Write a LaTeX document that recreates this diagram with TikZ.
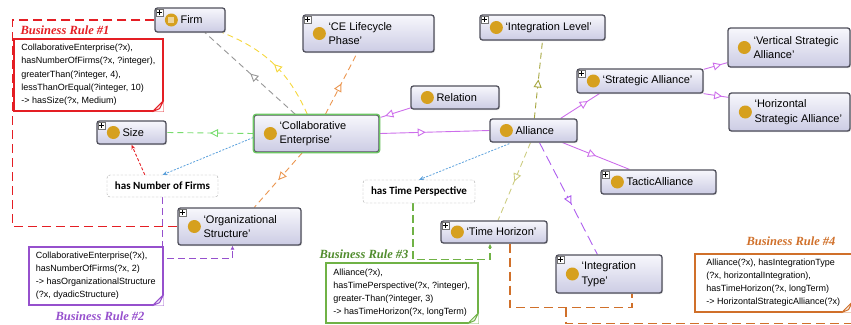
\documentclass[tikz,border=0pt]{standalone}
\usepackage{fontspec}
\setmainfont{Liberation Sans}
\newfontfamily\titlefont{Liberation Serif}
\newfontfamily\propfont{Carlito}
\usetikzlibrary{arrows.meta,decorations.markings,calc,shadows}

\definecolor{boxedge}{RGB}{80,80,92}
\definecolor{boxtop}{RGB}{247,247,252}
\definecolor{boxbot}{RGB}{204,204,228}
\definecolor{bead}{RGB}{214,160,30}
\definecolor{rulered}{RGB}{228,30,36}
\definecolor{rulepurple}{RGB}{150,80,205}
\definecolor{rulegreen}{RGB}{112,178,70}
\definecolor{ruletitlegreen}{RGB}{80,140,45}
\definecolor{ruleorange}{RGB}{208,112,42}
\definecolor{isagreen}{RGB}{120,220,110}
\definecolor{isaviolet}{RGB}{205,110,235}
\definecolor{isaolive}{RGB}{165,165,60}
\definecolor{isakhaki}{RGB}{205,205,130}
\definecolor{isaorange}{RGB}{235,150,80}
\definecolor{isayellow}{RGB}{245,215,60}
\definecolor{isagray}{RGB}{150,150,150}
\definecolor{propblue}{RGB}{90,160,220}

\tikzset{
  cls/.style={draw=boxedge, line width=1.3pt, rounded corners=2.5pt,
    top color=boxtop, bottom color=boxbot, inner sep=0pt,
    drop shadow={opacity=0.25, shadow xshift=1pt, shadow yshift=-1.2pt}},
  lbl/.style={anchor=west, align=left, inner sep=0pt,
    font=\fontsize{11}{14.5}\selectfont},
  propbox/.style={draw=black!35, dash pattern=on 2.5pt off 1.5pt, rounded corners=3pt,
    fill=white, inner sep=0pt, font=\propfont\bfseries\fontsize{11}{13}\selectfont},
  rulebox/.style={fill=white, line width=1.6pt, anchor=north west, align=left,
    inner sep=0pt, font=\fontsize{9}{13.2}\selectfont,
    drop shadow={opacity=0.3, shadow xshift=1.5pt, shadow yshift=-1.5pt}},
  rtitle/.style={font=\titlefont\bfseries\itshape\fontsize{12.5}{14}\selectfont, inner sep=0pt},
  isa/.style={line width=0.9pt, postaction={decorate, decoration={markings,
    mark=at position #1 with {\arrow{Triangle[length=8pt,width=8pt,fill=white]}}}}},
  isa/.default=0.5,
  isadash/.style={dash pattern=on 6pt off 4pt},
  proparrow/.style={propblue, line width=0.8pt, dash pattern=on 2pt off 1.5pt,
    -{Stealth[length=5pt,width=4pt]}},
  ruleline/.style={line width=1.3pt, dash pattern=on 9pt off 5pt},
}

% class box: name, centre, width, height, label
\newcommand{\owlbox}[5]{%
  \node[cls, minimum width=#3pt, minimum height=#4pt] (#1) at (#2) {};
  \fill[bead] ($(#1.west)+(17,0)$) circle (6.5);
  \node[lbl] (#1-txt) at ($(#1.west)+(26,0)$) {#5};
}
% expand mark at the top left corner
\newcommand{\plusmark}[1]{%
  \draw[fill=white, draw=black!55, line width=0.5pt] ($(#1.north west)+(1.5,1.5)$) rectangle ++(7,7);
  \draw[line width=0.7pt] ($(#1.north west)+(5,2.6)$) -- ++(0,4.8)
    ($(#1.north west)+(2.6,5)$) -- ++(4.8,0);
}
% folded corner of a note
\newcommand{\dogear}[2]{%
  \fill[white] (#1.south east) -- ++(-11,0) -- ++(11,-11) -- cycle;
  \filldraw[draw=#2, fill=#2!12, line width=1pt, line join=round]
    ($(#1.south east)+(-11,0)$) -- ($(#1.south east)+(0,-11)$) -- ($(#1.south east)+(-4,-3)$) -- cycle;
}

\pgfdeclarelayer{edges}
\pgfsetlayers{edges,main}

\begin{document}
\begin{tikzpicture}[x=1pt,y=-1pt]
\useasboundingbox (0,0) rectangle (851,324);
\clip (0,0) rectangle (851,324);

% classes
\owlbox{firm}{190,20}{70}{24}{Firm}
\owlbox{celife}{368.5,33.5}{131}{37}{‘CE Lifecycle\\Phase’}
\owlbox{intlevel}{542.5,27.5}{125}{25}{‘Integration Level’}
\owlbox{relation}{455,97.5}{88}{23}{Relation}
\owlbox{size}{131.5,132.5}{69}{23}{Size}
\owlbox{alliance}{533.5,130.5}{87}{23}{Alliance}
\owlbox{strategic}{640,81}{126}{24}{‘Strategic Alliance’}
\owlbox{vertical}{789,47.5}{122}{39}{‘Vertical Strategic\\Alliance’}
\owlbox{horizontal}{789.5,112}{121}{38}{‘Horizontal\\Strategic Alliance’}
\owlbox{tactic}{658.5,182}{115}{24}{TacticAlliance}
\owlbox{org}{239.5,226.5}{123}{37}{‘Organizational\\Structure’}
\owlbox{timeh}{494,232}{106}{22}{‘Time Horizon’}
\owlbox{inttype}{609,274}{106}{38}{‘Integration\\Type’}
\owlbox{ce}{316.5,133.5}{125}{37}{‘Collaborative\\Enterprise’}
\draw[draw=isagreen!90!black, line width=1.3pt, rounded corners=2.5pt] (ce.south west) rectangle (ce.north east);
\fill[bead!45!white] ($(firm.west)+(14,-3)$) rectangle ($(firm.west)+(20,3)$);

\plusmark{firm}
\plusmark{celife}
\plusmark{intlevel}
\plusmark{size}
\plusmark{strategic}
\plusmark{tactic}
\plusmark{org}
\plusmark{timeh}
\plusmark{inttype}

% datatype properties
\node[propbox, minimum width=111pt, minimum height=22pt] (hnf) at (162.5,186) {has Number of Firms};
\node[propbox, minimum width=112pt, minimum height=23pt] (htp) at (419,191.5) {has Time Perspective};

% business rules
\node[rulebox, draw=rulered, minimum width=149pt, minimum height=72pt] (br1) at (13,38)
  {CollaborativeEnterprise(?x),\\hasNumberOfFirms(?x, ?integer),\\greaterThan(?integer, 4),\\lessThanOrEqual(?integer, 10)\\-> hasSize(?x, Medium)};
\node[rulebox, draw=rulepurple, minimum width=134pt, minimum height=58pt] (br2) at (28,246)
  {CollaborativeEnterprise(?x),\\hasNumberOfFirms(?x, 2)\\-> hasOrganizationalStructure\\(?x, dyadicStructure)};
\node[rulebox, draw=rulegreen, minimum width=152pt, minimum height=60pt] (br3) at (325,262)
  {Alliance(?x),\\hasTimePerspective(?x, ?integer),\\greater-Than(?integer, 3)\\-> hasTimeHorizon(?x, longTerm)};
\node[rulebox, draw=ruleorange, minimum width=157pt, minimum height=58pt] (br4) at (694,253)
  {Alliance(?x), hasIntegrationType\\(?x, horizontalIntegration),\\hasTimeHorizon(?x, longTerm)\\-> HorizontalStrategicAlliance(?x)};
\dogear{br1}{rulered}
\dogear{br2}{rulepurple}
\dogear{br3}{rulegreen}
\dogear{br4}{ruleorange}

\node[rtitle, text=rulered] (br1-title) at (65,30) {Business Rule \#1};
\node[rtitle, text=rulepurple] (br2-title) at (100,316) {Business Rule \#2};
\node[rtitle, text=ruletitlegreen] (br3-title) at (364,254) {Business Rule \#3};
\node[rtitle, text=ruleorange] (br4-title) at (791,241) {Business Rule \#4};

\begin{pgfonlayer}{edges}
% subclass links
\draw[isa, isadash, isagray] ($(ce.north west)+(42,0)$) -- ($(firm.south)+(15,0)$);
\draw[isa, isadash, isayellow] ($(ce.north west)+(54,0)$) to[bend right=22] ($(firm.south east)+(-3,0)$);
\draw[isa, isadash, isaorange] ($(ce.north west)+(72,0)$) -- ($(celife.south west)+(55,0)$);
\draw[isa, isadash, isaorange] ($(ce.south west)+(49,0)$) -- ($(org.north west)+(77,0)$);
\draw[isa, isadash, isagreen] (ce.west) -- (size.east);
\draw[isa=0.85, isaviolet] ($(relation.south west)+(1,-2)$) -- ($(ce.north east)+(1,3)$);
\draw[isa=0.42, isaviolet] (ce.east) -- (alliance.west);
\draw[isa, isadash, isaolive] ($(alliance.north west)+(45,0)$) -- (intlevel.south);
\draw[isa=0.7, isaviolet] ($(alliance.north east)+(-17,0)$) -- ($(strategic.south west)+(23,0)$);
\draw[isa=0.75, isaviolet] ($(strategic.north east)+(0,1)$) -- ($(vertical.south west)+(0,-5)$);
\draw[isa=0.75, isaviolet] (strategic.south east) -- ($(horizontal.north west)+(0,5)$);
\draw[isa, isaviolet] ($(alliance.south east)+(-15,0)$) -- ($(tactic.north west)+(29,0)$);
\draw[isa=0.55, isaviolet!85!blue, dash pattern=on 10pt off 5pt] ($(alliance.south)+(6,0)$) -- ($(inttype.north west)+(42,0)$);
\draw[isa, isadash, isakhaki] ($(alliance.south)+(-3,0)$) -- ($(timeh.north)+(4,0)$);

% property links
\draw[proparrow] ($(ce.west)+(0,4)$) -- (hnf.north);
\draw[proparrow] ($(alliance.south west)+(20,1)$) -- (htp.north);
\draw[rulered, line width=0.9pt, dash pattern=on 3pt off 2pt, -{Stealth[length=5pt,width=4pt]}]
  ($(hnf.north west)+(38,0)$) -- (size.south);

% rule links
\draw[ruleline, rulered] (firm.west) -- ++(-142,0) |- (org.west);
\draw[rulepurple, line width=1.2pt, dash pattern=on 7pt off 4pt, -{Latex[length=4pt,width=4pt]}]
  (hnf.south) |- ($(org.south)+(-7,13)$) -- ($(org.south)+(-7,0)$);
\draw[rulegreen, line width=1.2pt, dash pattern=on 8pt off 4pt, -{Latex[length=4pt,width=4pt]}]
  ($(htp.south)+(-6,0)$) |- ($(timeh.south)+(-4,16)$) -- ($(timeh.south)+(-4,0)$);
\draw[ruleline, ruleorange] ($(timeh.south)+(16,0)$) |- ($(inttype.south)+(23,14)$) -- ($(inttype.south)+(23,0)$);
\coordinate (fork) at ($(inttype.south)+(-43,14)$);
\draw[ruleline, ruleorange, -{Latex[length=5pt,width=5pt]}] (fork) -- ++(0,16) -| ($(horizontal.south east)+(4,0)$);
\end{pgfonlayer}
\end{tikzpicture}
\end{document}
